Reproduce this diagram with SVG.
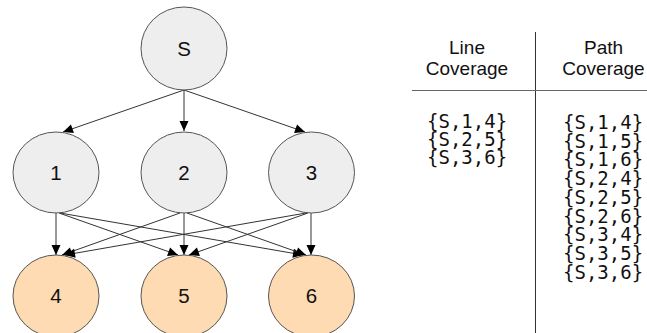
<svg xmlns="http://www.w3.org/2000/svg" width="647" height="333" viewBox="0 0 647 333">
<defs>
<style>
.n ellipse{stroke:#555555;stroke-width:1}
.g ellipse{fill:#eeeeee}
.o ellipse{fill:#ffdbb4}
.lbl{font-family:"Liberation Sans",Arial,sans-serif;font-size:20.5px;fill:#111111;text-anchor:middle}
.e line{stroke:#333333;stroke-width:1}
.hd{font-family:"Liberation Sans",Arial,sans-serif;font-size:19px;fill:#111111;text-anchor:middle}
.mono{font-family:"DejaVu Sans Mono","Liberation Mono",monospace;font-size:19px;fill:#111111}
</style>
<marker id="arr" markerUnits="userSpaceOnUse" markerWidth="12" markerHeight="12" viewBox="0 0 12 12" refX="11" refY="6" orient="auto">
<path d="M1,1.5 L11,6 L1,10.5 Z" fill="#000000"/>
</marker>
</defs>
<rect width="647" height="333" fill="#ffffff"/>
<g id="connectors" class="e">
<line x1="184" y1="90" x2="63" y2="132" marker-end="url(#arr)"/>
<line x1="184" y1="90" x2="184" y2="131" marker-end="url(#arr)"/>
<line x1="184" y1="90" x2="305" y2="132" marker-end="url(#arr)"/>
<line x1="56" y1="213" x2="56" y2="255" marker-end="url(#arr)"/>
<line x1="59" y1="213" x2="178" y2="255" marker-end="url(#arr)"/>
<line x1="60" y1="213" x2="303" y2="255" marker-end="url(#arr)"/>
<line x1="180" y1="213" x2="62" y2="255" marker-end="url(#arr)"/>
<line x1="184" y1="213" x2="184" y2="255" marker-end="url(#arr)"/>
<line x1="187" y1="213" x2="306" y2="255" marker-end="url(#arr)"/>
<line x1="306" y1="213" x2="65" y2="255" marker-end="url(#arr)"/>
<line x1="308" y1="213" x2="189" y2="255" marker-end="url(#arr)"/>
<line x1="311" y1="213" x2="311" y2="255" marker-end="url(#arr)"/>
</g>
<g id="node-S" class="n g"><ellipse cx="184" cy="48.5" rx="43" ry="41.5"/><text class="lbl" x="184" y="56">S</text></g>
<g id="node-1" class="n g"><ellipse cx="56" cy="172.5" rx="43" ry="40.5"/><text class="lbl" x="56" y="180">1</text></g>
<g id="node-2" class="n g"><ellipse cx="184" cy="172.5" rx="43" ry="40.5"/><text class="lbl" x="184" y="180">2</text></g>
<g id="node-3" class="n g"><ellipse cx="311.5" cy="172.5" rx="43" ry="40.5"/><text class="lbl" x="311.5" y="180">3</text></g>
<g id="node-4" class="n o"><ellipse cx="56" cy="296" rx="43" ry="41"/><text class="lbl" x="56" y="303">4</text></g>
<g id="node-5" class="n o"><ellipse cx="184" cy="296" rx="43" ry="41"/><text class="lbl" x="184" y="303">5</text></g>
<g id="node-6" class="n o"><ellipse cx="311.5" cy="296" rx="43" ry="41"/><text class="lbl" x="311.5" y="303">6</text></g>
<g id="table">
<line x1="535.5" y1="32" x2="535.5" y2="333" stroke="#333333" stroke-width="1"/>
<line x1="412" y1="90.5" x2="647" y2="90.5" stroke="#666666" stroke-width="1"/>
<text class="hd" x="467" y="54">Line</text>
<text class="hd" x="467" y="75">Coverage</text>
<text class="hd" x="603.5" y="54">Path</text>
<text class="hd" x="603.5" y="75">Coverage</text>
<text class="mono" x="427" y="128">{S,1,4}</text>
<text class="mono" x="427" y="146">{S,2,5}</text>
<text class="mono" x="427" y="164">{S,3,6}</text>
<text class="mono" x="563" y="129">{S,1,4}</text>
<text class="mono" x="563" y="147.7">{S,1,5}</text>
<text class="mono" x="563" y="166.4">{S,1,6}</text>
<text class="mono" x="563" y="185.1">{S,2,4}</text>
<text class="mono" x="563" y="203.8">{S,2,5}</text>
<text class="mono" x="563" y="222.5">{S,2,6}</text>
<text class="mono" x="563" y="241.2">{S,3,4}</text>
<text class="mono" x="563" y="259.9">{S,3,5}</text>
<text class="mono" x="563" y="278.6">{S,3,6}</text>
</g>
</svg>
